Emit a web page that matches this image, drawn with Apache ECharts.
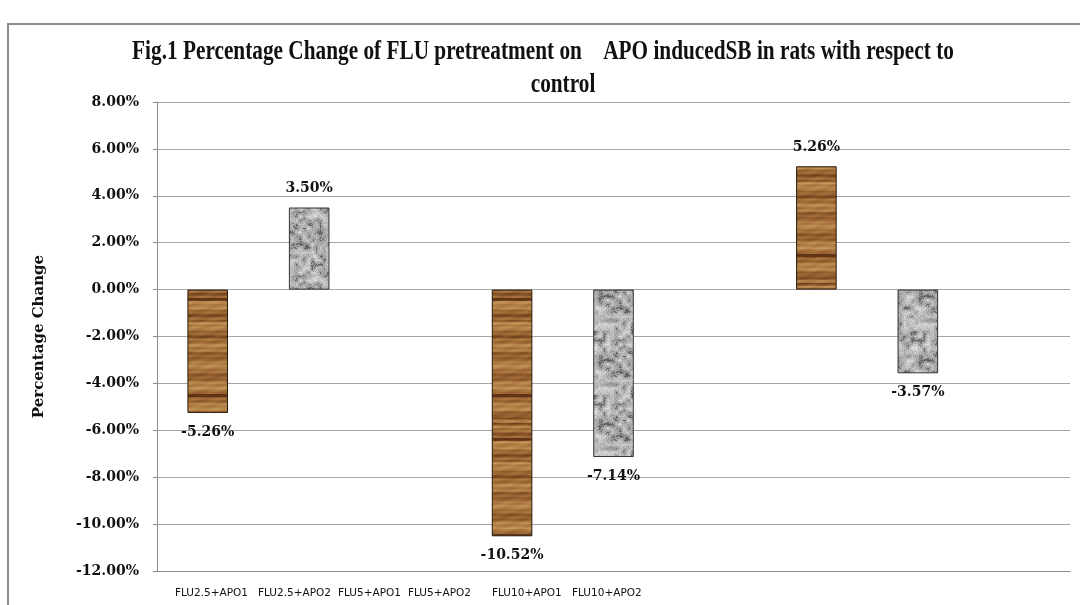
<!DOCTYPE html>
<html>
<head>
<meta charset="utf-8">
<script src="https://cdn.jsdelivr.net/npm/echarts@6/dist/echarts.min.js"></script>
<style>
html,body{margin:0;padding:0;background:#fff;}
#chart{width:1080px;height:605px;}
</style>
</head>
<body>
<div id="chart"></div>
<script>
// ---- data ----
var groups = ['FLU2.5', 'FLU5', 'FLU10'];
var apo1Values = [-5.26, -10.52, 5.26];
var apo2Values = [3.50, -7.14, -3.57];
var xTickLabels = ['FLU2.5+APO1', 'FLU2.5+APO2', 'FLU5+APO1', 'FLU5+APO2', 'FLU10+APO1', 'FLU10+APO2'];
var yMin = -12, yMax = 8, yStep = 2;
var titleLine1 = 'Fig.1 Percentage Change of FLU pretreatment on    APO inducedSB in rats with respect to';
var titleLine2 = 'control';
var yAxisTitle = 'Percentage Change';

// ---- textures (deterministic) ----
function hash(x, y) {
  var h = Math.sin(x * 127.1 + y * 311.7) * 43758.5453;
  return h - Math.floor(h);
}
function woodPattern() {
  var w = 48, h = 140;
  var c = document.createElement('canvas'); c.width = w; c.height = h;
  var ctx = c.getContext('2d');
  var img = ctx.createImageData(w, h);
  var dark = [96, 52, 20], mid = [158, 104, 52], light = [205, 160, 98];
  var rows = [];
  for (var y = 0; y < h; y++) {
    var v = 0.55 + 0.2 * Math.sin(y * 0.31) + 0.12 * Math.sin(y * 1.17 + 1.3) + 0.18 * (hash(3, Math.floor(y / 2)) - 0.5);
    if (hash(7, Math.floor(y / 3)) > 0.86) v -= 0.45;
    rows.push(v);
  }
  for (var y2 = 0; y2 < h; y2++) {
    for (var x = 0; x < w; x++) {
      var v2 = rows[y2] + 0.06 * Math.sin(x * 0.25 + y2 * 0.7) + 0.06 * (hash(x, y2) - 0.5);
      v2 = Math.max(0, Math.min(1, v2));
      var col;
      if (v2 < 0.5) { var t = v2 / 0.5; col = [dark[0] + (mid[0] - dark[0]) * t, dark[1] + (mid[1] - dark[1]) * t, dark[2] + (mid[2] - dark[2]) * t]; }
      else { var t2 = (v2 - 0.5) / 0.5; col = [mid[0] + (light[0] - mid[0]) * t2, mid[1] + (light[1] - mid[1]) * t2, mid[2] + (light[2] - mid[2]) * t2]; }
      var i = (y2 * w + x) * 4;
      img.data[i] = col[0]; img.data[i + 1] = col[1]; img.data[i + 2] = col[2]; img.data[i + 3] = 255;
    }
  }
  ctx.putImageData(img, 0, 0);
  return c;
}
function granitePattern() {
  var w = 64, h = 64, g = 4;
  var c = document.createElement('canvas'); c.width = w; c.height = h;
  var ctx = c.getContext('2d');
  var img = ctx.createImageData(w, h);
  function vn(x, y) {
    var gx = Math.floor(x / g), gy = Math.floor(y / g);
    var fx = (x % g) / g, fy = (y % g) / g;
    var n = w / g;
    var a = hash(gx % n, gy % n), b = hash((gx + 1) % n, gy % n);
    var cc = hash(gx % n, (gy + 1) % n), d = hash((gx + 1) % n, (gy + 1) % n);
    var top = a + (b - a) * fx, bot = cc + (d - cc) * fx;
    return top + (bot - top) * fy;
  }
  for (var y = 0; y < h; y++) {
    for (var x = 0; x < w; x++) {
      var v = 0.7 * vn(x, y) + 0.3 * hash(x + 11, y + 5);
      var gray = 112 + v * 125;
      if (v < 0.28) gray = 88 + v * 80;
      var i = (y * w + x) * 4;
      img.data[i] = gray; img.data[i + 1] = gray; img.data[i + 2] = gray; img.data[i + 3] = 255;
    }
  }
  ctx.putImageData(img, 0, 0);
  return c;
}
var woodFill = { image: woodPattern(), repeat: 'repeat' };
var graniteFill = { image: granitePattern(), repeat: 'repeat' };

function fmt(v) { return v.toFixed(2) + '%'; }

// Each group occupies three slots: APO1, APO2, empty spacer
var slots = [];
var apo1Data = [], apo2Data = [];
groups.forEach(function (g, i) {
  slots.push(g + '+APO1', g + '+APO2', g + ' ');
  apo1Data.push(apo1Values[i], '-', '-');
  apo2Data.push('-', apo2Values[i], '-');
});
function toItems(arr) {
  return arr.map(function (v) {
    if (v === '-') return '-';
    return { value: v, label: { position: v < 0 ? 'bottom' : 'top' } };
  });
}

var labelFont = { fontFamily: 'DejaVu Serif', fontWeight: 'bold', fontSize: 14, color: '#111' };
var xLabelLeft = [175, 258, 338, 408, 492, 572];
var titleFont = { fontFamily: 'Liberation Serif', fontWeight: 'bold', fontSize: 28, fill: '#111', align: 'center', verticalAlign: 'middle' };

var chart = echarts.init(document.getElementById('chart'), null, { renderer: 'canvas' });
var option = {
  animation: false,
  backgroundColor: '#fff',
  grid: { left: 157, right: 10, top: 102, bottom: 34, containLabel: false },
  xAxis: {
    type: 'category',
    data: slots,
    axisLine: { onZero: false, lineStyle: { color: '#8c8c8c', width: 1 } },
    axisTick: { show: false },
    axisLabel: { show: false },
    splitLine: { show: false }
  },
  yAxis: {
    type: 'value',
    min: yMin, max: yMax, interval: yStep,
    name: yAxisTitle,
    nameLocation: 'middle',
    nameRotate: 90,
    nameGap: 110,
    nameTextStyle: { fontFamily: 'DejaVu Serif', fontWeight: 'bold', fontSize: 15, color: '#111' },
    axisLine: { show: true, lineStyle: { color: '#8c8c8c', width: 1 } },
    axisTick: { show: true, length: 4, inside: false, lineStyle: { color: '#8c8c8c' } },
    axisLabel: { formatter: fmt, margin: 18, fontFamily: 'DejaVu Serif', fontWeight: 'bold', fontSize: 14, color: '#111' },
    splitLine: { show: true, lineStyle: { color: '#a6a6a6', width: 1 } }
  },
  series: [
    {
      name: 'APO1', type: 'bar', data: toItems(apo1Data),
      barCategoryGap: '60%', barGap: '-100%',
      itemStyle: { color: woodFill, borderColor: '#2a1a0a', borderWidth: 1 },
      label: Object.assign({ show: true, distance: 12, formatter: function (p) { return fmt(p.value); } }, labelFont)
    },
    {
      name: 'APO2', type: 'bar', data: toItems(apo2Data),
      barCategoryGap: '60%', barGap: '-100%',
      itemStyle: { color: graniteFill, borderColor: '#333', borderWidth: 1 },
      label: Object.assign({ show: true, distance: 12, formatter: function (p) { return fmt(p.value); } }, labelFont)
    }
  ],
  graphic: [
    { type: 'rect', shape: { x: 8, y: 24, width: 1100, height: 700 }, style: { fill: null, stroke: '#8c8c8c', lineWidth: 2 }, silent: true, z: -1 },
    { type: 'text', x: 543, y: 52, scaleX: 0.76, silent: true, style: Object.assign({ text: titleLine1 }, titleFont) },
    { type: 'text', x: 563, y: 85, scaleX: 0.76, silent: true, style: Object.assign({ text: titleLine2 }, titleFont) }
  ].concat(xTickLabels.map(function (t, i) {
    return { type: 'text', x: xLabelLeft[i], y: 593, silent: true,
      style: { text: t, fontFamily: 'DejaVu Sans', fontSize: 10.5, fill: '#111', align: 'left', verticalAlign: 'middle' } };
  }))
};
chart.setOption(option);
</script>
</body>
</html>
